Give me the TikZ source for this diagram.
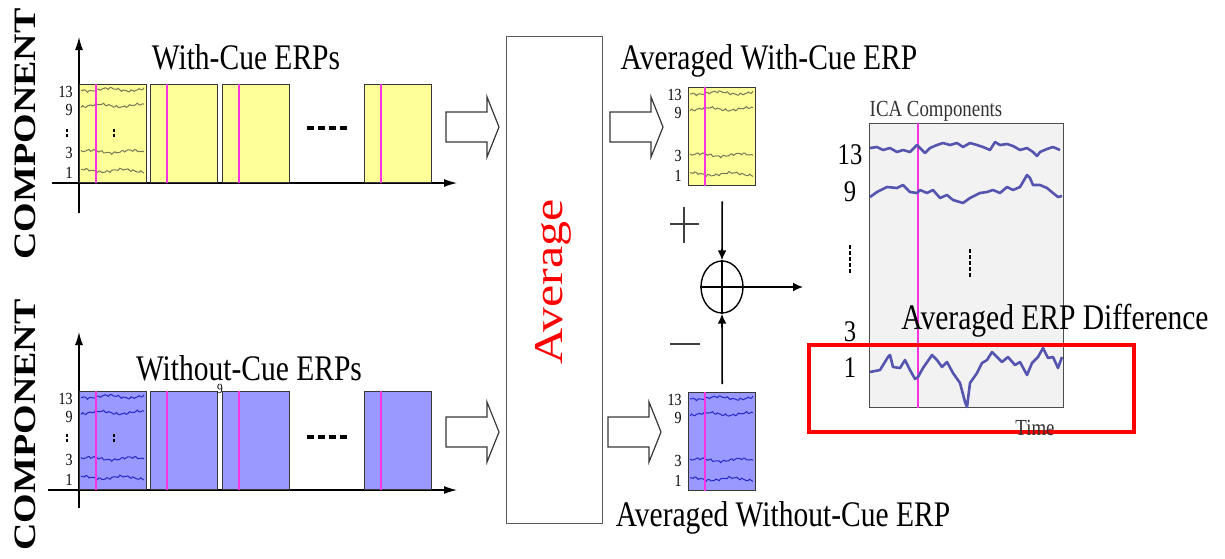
\documentclass[tikz,border=0pt]{standalone}
\usepackage{fontspec}
\setmainfont{Liberation Serif}
\usepackage{tikz}
\usetikzlibrary{arrows.meta,positioning,shapes.geometric,calc}
\definecolor{cueyellow}{RGB}{255,255,153}
\definecolor{nocueblue}{RGB}{153,153,255}
\definecolor{cuemagenta}{RGB}{250,50,230}
\definecolor{waveolive}{RGB}{120,120,90}
\definecolor{waveblue}{RGB}{40,40,200}
\definecolor{icablue}{RGB}{85,85,175}
\definecolor{boxgray}{RGB}{55,55,55}

\newcommand{\hsq}[1]{\scalebox{0.82}[1]{#1}}
\newcommand{\vsq}[1]{\scalebox{1}[0.82]{#1}}
\newcommand{\erpwaves}[2]{%
  \foreach \dy/\ph in {6/0,22/80,68/160,87/240}
    \draw[#2, line width=0.5pt, shift={(#1.north west)}]
      plot[domain=2:65, samples=40] (\x, {\dy+0.8*sin(53*\x+\ph)+0.5*sin(137*\x+2*\ph)+1.4*sin(9*\x+\ph)});
}
\newcommand{\erpnums}[1]{%
  \foreach \n/\dy in {13/8,9/26,3/69,1/89}
    \node[num] at ($(#1.north west)+(-6,\dy)$) {\hsq{\n}};
}

\begin{document}
\begin{tikzpicture}[x=0.5pt, y=-0.5pt,
  every node/.style={inner sep=0pt},
  erp/.style={draw=boxgray, line width=0.7pt, minimum width=33.5pt, minimum height=49pt, anchor=south west},
  ttl/.style={font=\fontsize{18pt}{20pt}\selectfont},
  num/.style={font=\fontsize{8.5pt}{9pt}\selectfont, anchor=east},
  bignum/.style={font=\fontsize{15pt}{16pt}\selectfont},
  small/.style={font=\fontsize{11.5pt}{12pt}\selectfont, text=black!80},
  axis/.style={line width=0.6pt, -{Latex[length=6.5pt,width=4pt]}},
  conn/.style={line width=0.8pt, -{Latex[length=5pt,width=4.5pt]}},
  cue/.style={cuemagenta, line width=0.7pt},
  vdots/.style={line width=1.2pt, dash pattern=on 1.5pt off 1pt},
  icatrace/.style={icablue, line width=1.3pt, line join=round},
  fatarrow/.pic={\draw[boxgray, line width=0.6pt] (0,-15) -- (41,-15) -- (41,-30) -- (53,0) -- (41,30) -- (41,15) -- (0,15) -- cycle;}
]
\useasboundingbox (0,0) rectangle (1225,558);

% component labels
\node[rotate=90, font=\bfseries\fontsize{19pt}{20pt}\selectfont] (comp1) at (25,134) {\vsq{COMPONENT}};
\node[rotate=90, font=\bfseries\fontsize{19pt}{20pt}\selectfont] (comp2) at (25,425) {\vsq{COMPONENT}};

% with-cue trials
\draw[axis] (79,213) -- (79,37);
\draw[axis] (52,183) -- (457,183);
\node[erp, fill=cueyellow] (w1) at (79,183) {};
\node[erp, fill=cueyellow] (w2) at (150,183) {};
\node[erp, fill=cueyellow] (w3) at (222,183) {};
\node[erp, fill=cueyellow] (w4) at (364,183) {};
\node[ttl] (wtitle) at (246,57) {\hsq{With-Cue ERPs}};
\erpwaves{w1}{waveolive}
\erpnums{w1}
\draw[vdots] ($(w1.north west)+(-12,45)$) -- ++(0,9);
\draw[vdots] ($(w1.north west)+(35,45)$) -- ++(0,9);
\draw[line width=2pt, dash pattern=on 3.5pt off 2pt] (307,128) -- (347,128);

% without-cue trials
\draw[axis] (79,508) -- (79,332);
\draw[axis] (48,490) -- (457,490);
\node[erp, fill=nocueblue] (n1) at (79,490) {};
\node[erp, fill=nocueblue] (n2) at (150,490) {};
\node[erp, fill=nocueblue] (n3) at (222,490) {};
\node[erp, fill=nocueblue] (n4) at (364,490) {};
\node[ttl] (ntitle) at (249,368) {\hsq{Without-Cue ERPs}};
\node[font=\fontsize{7pt}{8pt}\selectfont] (stray) at (220,389) {\hsq{9}};
\erpwaves{n1}{waveblue}
\erpnums{n1}
\draw[vdots] ($(n1.north west)+(-12,43)$) -- ++(0,9);
\draw[vdots] ($(n1.north west)+(35,43)$) -- ++(0,9);
\draw[line width=2pt, dash pattern=on 3.5pt off 2pt] (307,437) -- (347,437);

% averaging
\pic at (446,127) {fatarrow};
\pic at (446,432) {fatarrow};
\node[draw=black!65, line width=0.6pt, minimum width=48pt, minimum height=243.5pt, anchor=north west] (avg) at (506,36) {};
\node[rotate=90, text=red, font=\fontsize{25pt}{27pt}\selectfont] (avglabel) at (553,282) {\vsq{Average}};
\pic at (610,127) {fatarrow};
\pic at (608,432) {fatarrow};

% averaged ERPs
\node[erp, fill=cueyellow, anchor=north west] (aw) at (688,87) {};
\node[erp, fill=nocueblue, anchor=north west] (an) at (688,392) {};
\node[ttl] (awtitle) at (769,61) {\hsq{Averaged With-Cue ERP}};
\node[ttl] (antitle) at (783,518) {\hsq{Averaged Without-Cue ERP}};
\erpwaves{aw}{waveolive}
\erpwaves{an}{waveblue}
\erpnums{aw}
\erpnums{an}
\foreach \b in {w1,w2,w3,w4,n1,n2,n3,n4,aw,an}
  \draw[cue] ($(\b.north west)+(17,0)$) -- ($(\b.south west)+(17,0)$);

% difference
\node[draw, ellipse, line width=0.7pt, minimum width=21pt, minimum height=26pt] (sum) at (722,287) {};
\draw[line width=0.6pt] (sum.north) -- (sum.south) (sum.west) -- (sum.east);
\draw[conn] ([yshift=-7.5pt]aw.south) -- (sum.north);
\draw[conn] ([yshift=4pt]an.north) -- (sum.south);
\coordinate (diffin) at (803,287);
\draw[conn] (sum.east) -- (diffin);
\draw[black!75, line width=0.7pt] (670,224) -- (699,224) (684,207) -- (684,243);
\draw[black!75, line width=0.7pt] (670,344) -- (700,344);

% ICA components
\node[draw=black!70, line width=0.6pt, fill=gray!10, minimum width=97pt, minimum height=142pt, anchor=north west] (ica) at (869,123) {};
\draw[cue] ($(ica.north west)+(49,0)$) -- ($(ica.south west)+(49,0)$);
\node[small] (icalabel) at (936,111) {\hsq{ICA Components}};
\foreach \n/\yy in {13/155,9/192,3/332,1/368}
  \node[bignum] at (850,\yy) {\hsq{\n}};
\draw[line width=1pt, dash pattern=on 2pt off 1pt] (850,245) -- (850,273);
\draw[line width=1pt, dash pattern=on 2pt off 1pt] (970,249) -- (970,277);
\draw[icatrace] (870,148) -- (877,147) -- (883,150) -- (890,148) -- (897,152) -- (903,150) -- (910,152) -- (917,145) -- (920,148) -- (925,153) -- (930,148) -- (937,145) -- (943,143) -- (950,145) -- (957,143) -- (963,147) -- (970,143) -- (977,145) -- (983,147) -- (990,150) -- (995,142) -- (1000,145) -- (1007,144) -- (1013,146) -- (1020,150) -- (1027,148) -- (1033,152) -- (1037,156) -- (1040,152) -- (1047,149) -- (1053,147) -- (1060,150);
\draw[icatrace] (870,197) -- (877,192) -- (887,187) -- (897,188) -- (903,185) -- (910,192) -- (917,193) -- (920,190) -- (927,193) -- (933,190) -- (940,198) -- (947,195) -- (953,200) -- (963,203) -- (970,198) -- (980,193) -- (987,192) -- (993,190) -- (1000,193) -- (1007,187) -- (1013,190) -- (1020,187) -- (1027,175) -- (1030,178) -- (1033,185) -- (1040,185) -- (1047,188) -- (1053,193) -- (1058,197) -- (1062,196);
\draw[icatrace] (870,372) -- (880,370) -- (888,357) -- (890,355) -- (893,367) -- (900,368) -- (905,360) -- (910,370) -- (915,379) -- (918,377) -- (923,368) -- (932,355) -- (937,360) -- (942,367) -- (947,362) -- (953,373) -- (960,383) -- (965,402) -- (967,407) -- (970,383) -- (977,373) -- (982,363) -- (987,360) -- (992,352) -- (997,357) -- (1002,362) -- (1008,357) -- (1015,365) -- (1020,362) -- (1027,375) -- (1032,363) -- (1038,357) -- (1043,348) -- (1048,358) -- (1053,357) -- (1058,368) -- (1062,357);
\node[draw=red, line width=2pt, minimum width=162.5pt, minimum height=43.5pt, anchor=north west] (diffbox) at (807,343) {};
\node[small] (timelabel) at (1035,428) {\hsq{Time}};
\node[ttl] (difftitle) at (1055,321) {\hsq{Averaged ERP Difference}};
\end{tikzpicture}
\end{document}
